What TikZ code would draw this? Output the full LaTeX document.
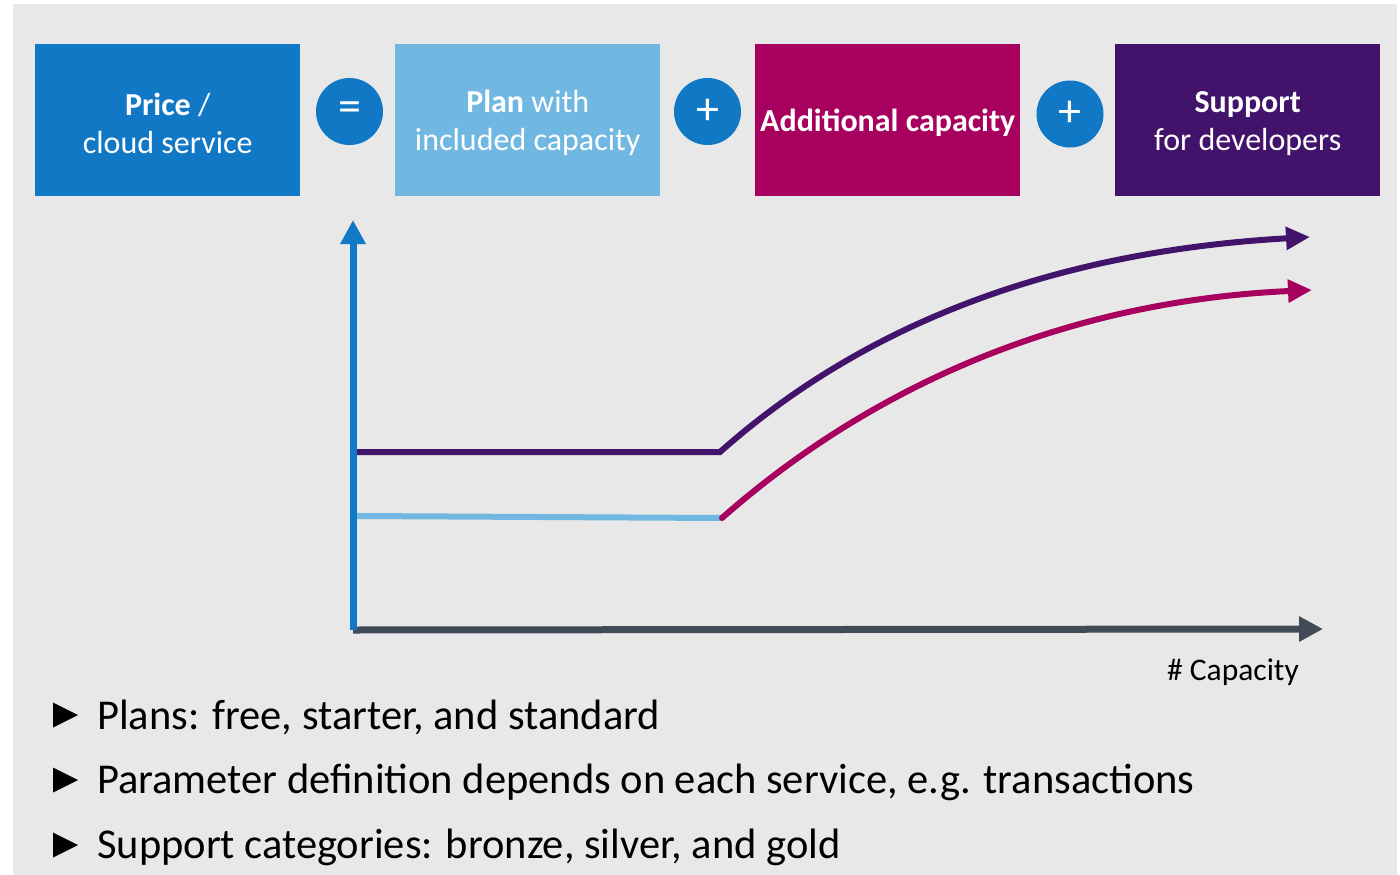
\documentclass[tikz,border=0pt]{standalone}
\usepackage{fontspec}
\setmainfont{Carlito}
\usetikzlibrary{arrows.meta}
\definecolor{bg}{HTML}{E8E8E8}
\definecolor{cblue}{HTML}{1078C5}
\definecolor{clight}{HTML}{70B8E2}
\definecolor{cmag}{HTML}{A8005E}
\definecolor{cpurp}{HTML}{42136A}
\definecolor{caxis}{HTML}{414B57}
\newcommand{\boxstrut}{\rule{0pt}{28.5pt}}
\tikzset{
  box/.style={minimum width=265pt, minimum height=152pt, inner sep=0pt, text=white, align=center, font=\fontsize{32}{38}\selectfont, anchor=north west},
  opcircle/.style={circle, fill=cblue, minimum size=67pt, inner sep=0pt, text=white, font=\fontsize{46}{46}\selectfont},
  axisline/.style={line width=7pt, -{Triangle[width=24pt,length=24pt]}},
  curveline/.style={line width=6pt, line cap=round},
  bullettext/.style={anchor=west, font=\fontsize{42.5}{42.5}\selectfont, inner sep=0pt},
}
\begin{document}
\begin{tikzpicture}[x=1pt,y=-1pt]
\useasboundingbox (0,0) rectangle (1400,875);
\fill[bg] (13,4) rectangle (1397,875);
% top boxes
\node[box, fill=cblue] (price) at (35,44) {\boxstrut\textbf{Price} /\\cloud service};
\node[opcircle] (eq) at (349.5,111.5) {=};
\node[box, fill=clight] (plan) at (395,44) {\boxstrut\textbf{Plan} with\\included capacity};
\node[opcircle] (plus1) at (707.5,111.5) {+};
\node[box, fill=cmag] (add) at (755,44) {\boxstrut\textbf{Additional capacity}};
\node[opcircle] (plus2) at (1070,114) {+};
\node[box, fill=cpurp] (supp) at (1115,44) {\boxstrut\textbf{Support}\\for developers};
% axes
\coordinate (origin) at (353,630);
\coordinate (ytop) at (353,220);
\coordinate (xend) at (1323,629);
\draw[axisline, caxis] (origin) -- (xend);
\draw[axisline, cblue] (origin) -- (ytop);
% curves
\coordinate (p0) at (357,452);
\coordinate (p1) at (720,452);
\coordinate (p2) at (1310,237);
\coordinate (m0) at (357,516);
\coordinate (m1) at (722,518);
\coordinate (m2) at (1312,290);
\draw[curveline, clight, line cap=butt] (m0) -- (m1);
\draw[line width=6pt, cpurp, -{Triangle[width=22pt,length=24pt]}] (p0) -- (p1) .. controls (880,310) and (1080,250) .. (p2);
\draw[curveline, cmag, -{Triangle[width=22pt,length=24pt]}] (m1) .. controls (890,370) and (1090,300) .. (m2);
\node[anchor=east, font=\fontsize{31.5}{31.5}\selectfont, inner sep=0pt] (cap) at (1299,672) {\# Capacity};
% bullets
\foreach \yy/\nm/\txt in {715/b1/{Plans: free, starter, and standard}, 780/b2/{Parameter definition depends on each service, e.g. transactions}, 845/b3/{Support categories: bronze, silver, and gold}}{
  \fill[black] (53,\yy-12.5) -- (78,\yy) -- (53,\yy+12.5) -- cycle;
  \node[bullettext] (\nm) at (97,\yy+2) {\txt};
}
\end{tikzpicture}
\end{document}
